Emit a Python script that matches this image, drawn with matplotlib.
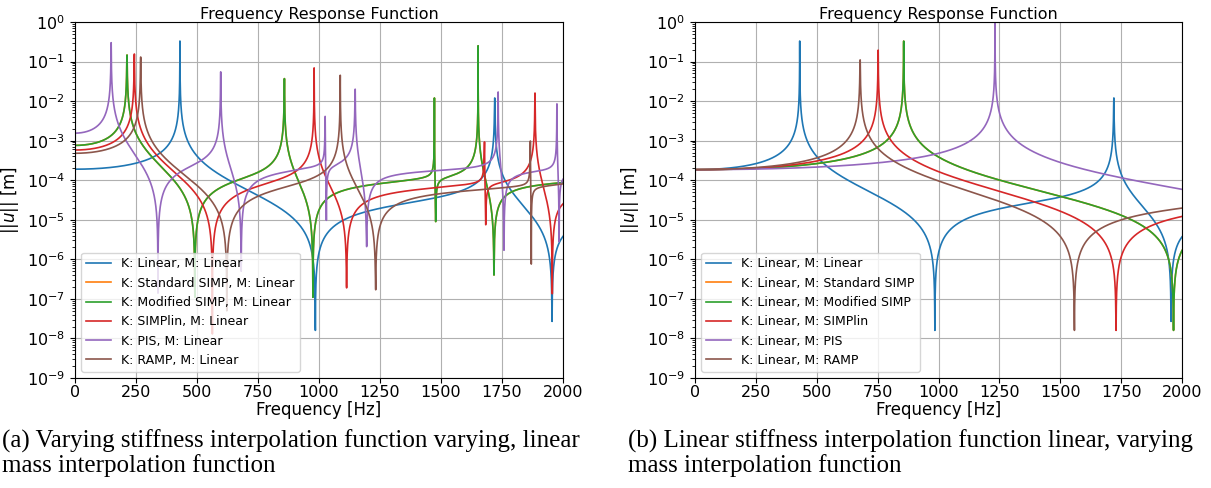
import numpy as np
import matplotlib.pyplot as plt
from matplotlib.ticker import LogLocator, NullFormatter

# frequency axis [Hz]
freq = np.linspace(0, 2000, 40001)

# (a) varying stiffness, linear mass (modes above 2000 Hz listed last)
labels_a = ['K: Linear, M: Linear', 'K: Standard SIMP, M: Linear',
            'K: Modified SIMP, M: Linear', 'K: SIMPlin, M: Linear',
            'K: PIS, M: Linear', 'K: RAMP, M: Linear']
u0_a = [1.9e-4, 7.6e-4, 7.6e-4, 5.8e-4, 1.55e-3, 4.8e-4]
res_a = [[430, 1720],
         [213, 858, 1473, 1652, 2400],
         [213, 858, 1473, 1652, 2400],
         [243, 980, 1678, 1885],
         [148, 597, 1025, 1148, 1734, 1975],
         [269, 1087, 1866, 2300]]
peak_a = [[0.33, 0.012],
          [0.146, 0.037, 0.012, 0.25],
          [0.146, 0.037, 0.012, 0.25],
          [0.155, 0.069, 9.3e-4, 0.016],
          [0.30, 0.055, 4.1e-3, 0.02, 0.017, 8.5e-3],
          [0.13, 0.045, 9.8e-4]]
anti_a = [[985, 1955],
          [491, 975, 1478, 1717, 2500],
          [491, 975, 1478, 1717, 2500],
          [563, 1113, 1683, 1956],
          [340, 681, 1030, 1195, 1758, 1984],
          [622, 1232, 1870, 2500]]
dip_a = [[1.6e-8, 2.7e-8],
         [1.1e-7, 1.1e-7, 9e-6, 4e-7],
         [1.1e-7, 1.1e-7, 9e-6, 4e-7],
         [1.3e-8, 1.9e-7, 7.5e-6, 1.35e-7],
         [1.4e-7, 5e-7, 9.7e-6, 2.1e-6, 1.7e-6, 2.8e-6],
         [5e-8, 1.7e-7, 7.6e-7]]

# (b) linear stiffness, varying mass (modes above 2000 Hz listed last)
labels_b = ['K: Linear, M: Linear', 'K: Linear, M: Standard SIMP',
            'K: Linear, M: Modified SIMP', 'K: Linear, M: SIMPlin',
            'K: Linear, M: PIS', 'K: Linear, M: RAMP']
u0_b = [1.85e-4, 1.85e-4, 1.85e-4, 1.85e-4, 1.85e-4, 1.85e-4]
res_b = [[430, 1720], [857, 3428], [857, 3428], [752, 3008], [1232, 4928], [678, 2712]]
peak_b = [[0.33, 0.012], [0.33], [0.33], [0.195], [1.0], [0.11]]
anti_b = [[985, 1955], [1965, 3896], [1965, 3896], [1729, 3420], [2822, 5600], [1558, 3083]]
dip_b = [[1.6e-8, 2.7e-8], [1.6e-8], [1.6e-8], [1.6e-8], [], [1.6e-8]]

captions = ['(a) Varying stiffness interpolation function varying, linear\nmass interpolation function',
            '(b) Linear stiffness interpolation function linear, varying\nmass interpolation function']


def frf(u0, res, peak, anti, dip):
    f2 = freq ** 2
    u = np.full_like(freq, u0)
    with np.errstate(divide='ignore', invalid='ignore'):
        for a in anti:
            u *= np.abs(1 - f2 / a ** 2)
        for r in res:
            u /= np.abs(1 - f2 / r ** 2)
    # peak heights / dip depths as seen in the plot
    for r, p in zip(res, peak):
        near = np.abs(freq - r) < 15
        u[near] = np.minimum(u[near], p)
    for a, d in zip(anti, dip):
        near = np.abs(freq - a) < 15
        u[near] = np.maximum(u[near], d)
    return u


fig = plt.figure(figsize=(12.11, 4.88), dpi=100)
ax_a = fig.add_axes([75 / 1211, 110 / 488, 488 / 1211, 356 / 488])
ax_b = fig.add_axes([695 / 1211, 110 / 488, 487 / 1211, 356 / 488])

sets = [(ax_a, labels_a, u0_a, res_a, peak_a, anti_a, dip_a),
        (ax_b, labels_b, u0_b, res_b, peak_b, anti_b, dip_b)]

for ax, labels, u0s, ress, peaks, antis, dips in sets:
    for i in range(len(labels)):
        ax.semilogy(freq, frf(u0s[i], ress[i], peaks[i], antis[i], dips[i]),
                    color='C%d' % i, lw=1.2, label=labels[i])
    ax.set_xlim(0, 2000)
    ax.set_ylim(1e-9, 1)
    ax.set_xticks(np.arange(0, 2001, 250))
    ax.yaxis.set_major_locator(LogLocator(base=10, numticks=20))
    ax.yaxis.set_minor_locator(LogLocator(base=10, subs=np.arange(2, 10), numticks=100))
    ax.yaxis.set_minor_formatter(NullFormatter())
    ax.tick_params(labelsize=11.5)
    ax.tick_params(axis='x', pad=1.5)
    ax.grid(True, which='major')
    ax.set_title('Frequency Response Function', fontsize=11.5, pad=2.5)
    ax.set_xlabel('Frequency [Hz]', fontsize=12, labelpad=1)
    ax.set_ylabel(r'$||u||$ [m]', fontsize=12)
    ax.legend(loc='lower left', fontsize=9)

fig.text(2 / 1211, 1 - 430 / 488, captions[0], va='top', ha='left',
         family='Liberation Serif', fontsize=18, linespacing=1.05)
fig.text(628 / 1211, 1 - 430 / 488, captions[1], va='top', ha='left',
         family='Liberation Serif', fontsize=18, linespacing=1.05)

fig.savefig('out.png', dpi=100)
